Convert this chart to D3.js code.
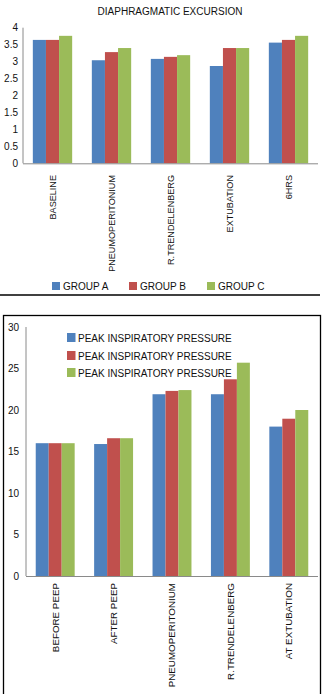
<!DOCTYPE html>
<html>
<head>
<meta charset="utf-8">
<script src="https://cdn.jsdelivr.net/npm/d3@7"></script>
<style>
  body { margin: 0; background: #fff; }
  svg text { font-family: "Liberation Sans", Arial, sans-serif; fill: #111; }
</style>
</head>
<body>
<svg id="chart" width="324" height="694"></svg>
<script>
// top chart data
const excursionCategories = ["BASELINE", "PNEUMOPERITONIUM", "R.TRENDELENBERG", "EXTUBATION", "6HRS"];
const excursionGroupA = [3.64, 3.04, 3.08, 2.87, 3.56];
const excursionGroupB = [3.64, 3.28, 3.14, 3.40, 3.64];
const excursionGroupC = [3.76, 3.40, 3.19, 3.40, 3.76];
const excursionSeries = ["GROUP A", "GROUP B", "GROUP C"];
const excursionTicks = [0, 0.5, 1, 1.5, 2, 2.5, 3, 3.5, 4];

// bottom chart data
const pressureCategories = ["BEFORE  PEEP", "AFTER PEEP", "PNEUMOPERITONIUM", "R.TRENDELENBERG", "AT EXTUBATION"];
const pressureGroupA = [16.0, 15.9, 21.9, 21.9, 18.0];
const pressureGroupB = [16.0, 16.6, 22.3, 23.7, 18.95];
const pressureGroupC = [16.0, 16.6, 22.4, 25.7, 20.0];
const pressureSeries = ["PEAK INSPIRATORY PRESSURE", "PEAK INSPIRATORY PRESSURE", "PEAK INSPIRATORY PRESSURE"];
const pressureTicks = [0, 5, 10, 15, 20, 25, 30];

const colors = ["#4F81BD", "#C0504D", "#9BBB59"];
const axisColor = "#8a8a8a";

const svg = d3.select("#chart");

// draws one grouped bar chart, returns the scales
function drawBars(g, cats, seriesVals, cfg){
    const x = d3.scaleBand()
        .domain(cats)
        .range([cfg.left, cfg.right])
        .paddingInner(1.5 / 4.5)
        .paddingOuter(0.75 / 4.5);

    const x1 = d3.scaleBand()
        .domain(d3.range(seriesVals.length))
        .range([0, x.bandwidth()]);

    const y = d3.scaleLinear()
        .domain(cfg.domain)
        .range([cfg.bottom, cfg.top]);

    // bars
    seriesVals.forEach((vals, s) => {
        g.append("g").selectAll("rect")
            .data(vals)
            .join("rect")
            .attr("x", (d, i) => x(cats[i]) + x1(s))
            .attr("y", d => y(d))
            .attr("width", x1.bandwidth())
            .attr("height", d => y(cfg.domain[0]) - y(d))
            .attr("fill", colors[s]);
    });

    // y axis
    const yAxis = g.append("g")
        .attr("transform", `translate(${cfg.left},0)`)
        .call(d3.axisLeft(y).tickValues(cfg.ticks).tickSize(0).tickPadding(cfg.tickPad).tickFormat(d3.format("")));
    yAxis.select(".domain").attr("stroke", axisColor).attr("d", `M0,${y(cfg.domain[1])}V${cfg.bottom}`);
    yAxis.selectAll("text").attr("font-size", cfg.yFont).attr("font-family", null);

    // x axis line
    g.append("line")
        .attr("x1", cfg.left).attr("x2", cfg.right)
        .attr("y1", cfg.bottom + 0.5).attr("y2", cfg.bottom + 0.5)
        .attr("stroke", axisColor);

    // rotated category labels
    g.append("g").selectAll("text")
        .data(cats)
        .join("text")
        .attr("transform", d => `translate(${x(d) + x.bandwidth() / 2},${cfg.labelTop}) rotate(-90)`)
        .attr("text-anchor", "end")
        .attr("dy", "0.35em")
        .attr("font-size", cfg.xFont)
        .text(d => d);

    return {x, y};
}

// ---- top chart ----
const topChart = svg.append("g");
topChart.append("text")
    .attr("x", 170).attr("y", 15)
    .attr("text-anchor", "middle")
    .attr("font-size", 10)
    .text("DIAPHRAGMATIC EXCURSION");

drawBars(topChart, excursionCategories, [excursionGroupA, excursionGroupB, excursionGroupC], {
    left: 23, right: 318, top: 27.7, bottom: 163.3,
    domain: [0, 4], ticks: excursionTicks, tickPad: 5,
    yFont: 10, xFont: 9.1, labelTop: 175
});

// legend below
const legendX = [52, 129, 207];
const topLegend = topChart.append("g").selectAll("g")
    .data(excursionSeries)
    .join("g")
    .attr("transform", (d, i) => `translate(${legendX[i]},282)`);
topLegend.append("rect").attr("width", 8).attr("height", 8).attr("fill", (d, i) => colors[i]);
topLegend.append("text").attr("x", 11).attr("y", 8).attr("font-size", 10).text(d => d);

// separator line
svg.append("line")
    .attr("x1", 0).attr("x2", 320)
    .attr("y1", 295).attr("y2", 295)
    .attr("stroke", "#000").attr("stroke-width", 1.5);

// ---- bottom chart ----
svg.append("rect")
    .attr("x", 3.5).attr("y", 315.5)
    .attr("width", 317).attr("height", 400)
    .attr("fill", "none").attr("stroke", "#000").attr("stroke-width", 1.3);

const bottomChart = svg.append("g");
drawBars(bottomChart, pressureCategories, [pressureGroupA, pressureGroupB, pressureGroupC], {
    left: 26, right: 318, top: 327, bottom: 576,
    domain: [0, 30], ticks: pressureTicks, tickPad: 7,
    yFont: 10, xFont: 9.8, labelTop: 583
});

const legendY = [333, 351, 368];
const bottomLegend = bottomChart.append("g").selectAll("g")
    .data(pressureSeries)
    .join("g")
    .attr("transform", (d, i) => `translate(67,${legendY[i]})`);
bottomLegend.append("rect").attr("width", 8.5).attr("height", 9).attr("fill", (d, i) => colors[i]);
bottomLegend.append("text").attr("x", 11).attr("y", 8.5).attr("font-size", 10).text(d => d);
</script>
</body>
</html>
